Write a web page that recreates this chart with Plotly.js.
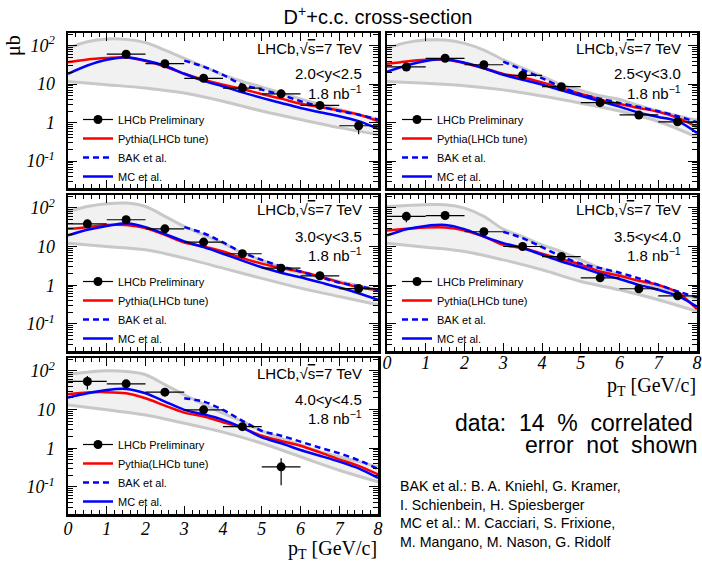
<!DOCTYPE html>
<html><head><meta charset="utf-8">
<script src="https://cdn.plot.ly/plotly-3.0.1.min.js"></script>
<style>html,body{margin:0;padding:0;background:#fff;}#chart{width:702px;height:561px;}</style>
</head><body><div id="chart"></div>
<script>
// ---------- data ----------
const ptGrid = [0,0.5,1,1.5,2,2.5,3,3.5,4,4.5,5,5.5,6,6.5,7,7.5,8];
const ptLow  = [0,1,2,3,4,5,6,7,8];
const ptBak  = [3,3.5,4,4.5,5,5.5,6,6.5,7,7.5,8];
const rapidityBins = ["2.0&lt;y&lt;2.5","2.5&lt;y&lt;3.0","3.0&lt;y&lt;3.5","3.5&lt;y&lt;4.0","4.0&lt;y&lt;4.5"];
const binHalfWidth = 0.5;

// LHCb data points
const dataPt1 = [1.5,2.5,3.5,4.5,5.5,6.5,7.5];
const dataY1  = [60,34,14.2,7.9,5.6,2.8,0.83];
const dataE1  = [5,3,1.2,0.7,0.6,0.35,0.33];
const dataPt2 = [0.5,1.5,2.5,3.5,4.5,5.5,6.5,7.5];
const dataY2  = [28,47,32,17,8.6,3.3,1.58,1.05];
const dataE2  = [6,4,3,1.5,0.8,0.3,0.15,0.12];
const dataPt3 = [0.5,1.5,2.5,3.5,4.5,5.5,6.5,7.5];
const dataY3  = [38.5,49,28.6,13,6.5,2.76,1.75,0.82];
const dataE3  = [6,5,3,1.2,0.6,0.3,0.2,0.1];
const dataPt4 = [0.5,1.5,2.5,3.5,4.5,5.5,6.5,7.5];
const dataY4  = [60,63,24,10,5.5,1.55,0.81,0.53];
const dataE4  = [18,10,3,1,0.5,0.2,0.1,0.1];
const dataPt5 = [0.5,1.5,2.5,3.5,4.5,5.5];
const dataY5  = [53,46,28,9.8,3.6,0.33];
const dataE5  = [20,8,3,1.2,0.6,0.22];

// Pythia (LHCb tune) on ptGrid
const pythia1 = [37,44,48,50,40,28.8,18.6,13.0,9.7,7.5,5.5,4.2,3.1,2.56,2.06,1.62,1.09];
const pythia2 = [33.7,39,43,43,35,26,18.5,15,11.1,7.9,5.6,4.0,3.05,2.4,1.9,1.33,0.78];
const pythia3 = [28.6,31.6,36,36,30,20,12.7,10,7.4,5.0,3.6,2.76,2.26,1.68,1.18,0.89,0.76];
const pythia4 = [26,28.6,31,31,26,18,11,9.1,6.5,4.7,3.4,2.26,1.75,1.3,1.02,0.65,0.24];
const pythia5 = [24.8,27.5,28,26.3,19.5,12.6,8.3,6.6,4.7,3.3,2.1,1.54,1.16,0.78,0.515,0.35,0.21];

// MC et al. (central) on ptGrid
const mc1 = [18.6,30.5,43,50,41,30,18.6,12.2,8.8,6.1,4.4,3.24,2.4,1.86,1.47,1.09,0.69];
const mc2 = [21,30.5,40,45,36,26,17.5,13,9.7,6.9,5.0,3.6,2.6,1.8,1.4,1.09,0.54];
const mc3 = [19.3,27,34,40,31.6,21,13.5,9.6,6.5,4.3,2.9,2.1,1.6,1.18,0.87,0.62,0.42];
const mc4 = [19.3,28,34,36,28,18,12.2,9.1,6.1,4.1,2.9,1.97,1.44,1.02,0.76,0.53,0.28];
const mc5 = [20.4,26.3,32,34,26.3,16,9.8,7.5,5.4,3.4,1.9,1.34,0.9,0.64,0.45,0.3,0.17];

// BAK et al. on ptBak
const bak1 = [41,28.6,17.4,9.7,7.2,5.3,3.6,2.65,2.0,1.6,1.2];
const bak2 = [38.6,23.5,14.4,8.4,5.5,4.2,3.24,2.55,1.97,1.47,1.02];
const bak3 = [31.6,22,12.7,7.0,4.5,3.05,2.26,1.6,1.18,0.93,0.76];
const bak4 = [24,16.4,9.6,5.5,3.6,2.76,2.1,1.5,1.02,0.69,0.49];
const bak5 = [19.5,16,9.8,5.1,2.8,2.1,1.48,1.03,0.74,0.49,0.29];

// MC uncertainty band: upper on ptGrid, lower on ptLow
const bandUp1 = [86,127,149,146,120,77,47,28.6,17.4,11.8,8.4,5.9,4.1,2.95,2.2,1.6,1.2];
const bandUp2 = [85,120,140,140,115,77,43,26,16,9.7,6.9,5.0,4.0,2.8,2.0,1.5,1.16];
const bandUp3 = [80,108,127,132,108,60,33,20,12.2,6.8,4.4,2.9,2.1,1.6,1.25,0.97,0.76];
const bandUp4 = [108,115,120,120,98,60,28,18,11,7.4,4.5,2.76,1.86,1.25,0.89,0.62,0.46];
const bandUp5 = [82,92,100,96,79,44,24,13.7,8.0,4.9,2.8,1.8,1.21,0.81,0.6,0.45,0.33];
const bandLo1 = [11.8,9.7,7.9,5.9,3.6,2.0,1.2,0.74,0.49];
const bandLo2 = [11.8,10.5,9.1,7.1,4.9,3.2,2.0,1.07,0.42];
const bandLo3 = [12.2,10,8.2,5.0,2.76,1.5,0.84,0.51,0.31];
const bandLo4 = [12.2,9.6,7.4,4.5,2.5,1.25,0.76,0.42,0.21];
const bandLo5 = [13,9.8,7.2,4.4,2.6,1.34,0.6,0.27,0.136];

const xTickVals = [0,1,2,3,4,5,6,7,8];
const yTickVals = [0.1,1,10,100];
const yTickText = ["10<sup>-1</sup>","1","10","10<sup>2</sup>"];

// ---------- layout helpers ----------
const W = 702, H = 561;
const cols = [[68,378],[387,697]];
const rows = [[33,188],[195,351],[358,514]];
const panels = [
  {c:0,r:0,pt:dataPt1,y:dataY1,e:dataE1,py:pythia1,mc:mc1,bak:bak1,up:bandUp1,lo:bandLo1,xl:false,yl:true,so:-3},
  {c:1,r:0,pt:dataPt2,y:dataY2,e:dataE2,py:pythia2,mc:mc2,bak:bak2,up:bandUp2,lo:bandLo2,xl:false,yl:false,so:-3},
  {c:0,r:1,pt:dataPt3,y:dataY3,e:dataE3,py:pythia3,mc:mc3,bak:bak3,up:bandUp3,lo:bandLo3,xl:false,yl:true,so:-3},
  {c:1,r:1,pt:dataPt4,y:dataY4,e:dataE4,py:pythia4,mc:mc4,bak:bak4,up:bandUp4,lo:bandLo4,xl:true,yl:false,so:-6},
  {c:0,r:2,pt:dataPt5,y:dataY5,e:dataE5,py:pythia5,mc:mc5,bak:bak5,up:bandUp5,lo:bandLo5,xl:true,yl:true,so:-3}
];

const minorY = [];
for (let d=-2; d<=2; d++) for (let k=2;k<=9;k++) minorY.push(k*Math.pow(10,d));
const minorX = [];
for (let i=0;i<=40;i++) if (i%5!==0) minorX.push(i*0.2);

const sans = '"Liberation Sans", Arial, Helvetica, sans-serif';
const serif = '"Liberation Serif", "Times New Roman", serif';
const tickFont = {family:serif, size:18, style:'italic', color:'#000'};

const traces = [];
const layout = {
  width:W, height:H, margin:{l:0,r:0,t:0,b:0},
  paper_bgcolor:'#fff', plot_bgcolor:'#fff', showlegend:true,
  title:{text:'D<sup>+</sup>+c.c. cross-section', x:378/W, xanchor:'center', y:1-17/H, yanchor:'middle',
         font:{family:sans, size:20, color:'#000'}},
  annotations:[], shapes:[]
};

panels.forEach((p,i)=>{
  const n = i+1;
  const sfx = (n===1?'':String(n));
  const xa = 'x'+sfx, ya = 'y'+sfx;
  const lg = 'legend'+sfx;
  const [x0,x1] = cols[p.c], [y0,y1] = rows[p.r];
  layout['xaxis'+sfx] = {
    domain:[x0/W,x1/W], anchor:ya, range:[0,8], tickvals:xTickVals, ticktext:xTickVals.map(String),
    showticklabels:p.xl, tickfont:tickFont, ticks:'inside', ticklen:8, tickwidth:1, tickcolor:'#000',
    minor:{tickvals:minorX, ticks:'inside', ticklen:4, tickwidth:1, tickcolor:'#000'},
    showline:true, linewidth:2.5, linecolor:'#000', mirror:'allticks', showgrid:false, zeroline:false,
    fixedrange:true, ticklabelstandoff:p.so
  };
  layout['yaxis'+sfx] = {
    domain:[1-y1/H,1-y0/H], anchor:xa, type:'log', range:[-1.7,2.33],
    tickvals:yTickVals, ticktext:yTickText, showticklabels:p.yl, tickfont:tickFont,
    ticks:'inside', ticklen:9, tickwidth:1, tickcolor:'#000',
    minor:{tickvals:minorY, ticks:'inside', ticklen:5, tickwidth:1, tickcolor:'#000'},
    showline:true, linewidth:2.5, linecolor:'#000', mirror:'allticks', showgrid:false, zeroline:false,
    fixedrange:true, ticklabelstandoff:7
  };
  layout[lg] = {x:(x0+10)/W, y:1-(y0+72)/H, xanchor:'left', yanchor:'top', bgcolor:'rgba(0,0,0,0)',
    font:{family:sans, size:11, color:'#000'}, tracegroupgap:0, itemwidth:30, traceorder:'normal'};

  // band
  traces.push({x:ptLow, y:p.lo, xaxis:xa, yaxis:ya, mode:'lines', line:{color:'#c8c8c8', width:3, shape:'spline'},
    showlegend:false, legend:lg, hoverinfo:'skip'});
  traces.push({x:ptGrid, y:p.up, xaxis:xa, yaxis:ya, mode:'lines', line:{color:'#c8c8c8', width:3, shape:'spline'},
    fill:'tonexty', fillcolor:'#f1f1f1', showlegend:false, legend:lg, hoverinfo:'skip'});
  // theory lines
  traces.push({x:ptGrid, y:p.py, xaxis:xa, yaxis:ya, mode:'lines', name:'Pythia(LHCb tune)', legend:lg, legendrank:2,
    line:{color:'#ff0000', width:2.5, shape:'spline', smoothing:0.8}});
  traces.push({x:ptBak, y:p.bak, xaxis:xa, yaxis:ya, mode:'lines', name:'BAK et al.', legend:lg, legendrank:3,
    line:{color:'#0000ff', width:2.5, dash:'6px,4px', shape:'spline', smoothing:0.8}});
  traces.push({x:ptGrid, y:p.mc, xaxis:xa, yaxis:ya, mode:'lines', name:'MC et al.', legend:lg, legendrank:4,
    line:{color:'#0000ff', width:2.5, shape:'spline', smoothing:0.8}});
  // data
  traces.push({x:p.pt, y:p.y, xaxis:xa, yaxis:ya, mode:'markers', showlegend:false, legend:lg,
    marker:{color:'#000', size:9},
    error_x:{type:'constant', value:binHalfWidth, color:'#000', thickness:1.2, width:0},
    error_y:{type:'data', array:p.e, color:'#000', thickness:1.2, width:0}});
  // legend entry for data
  traces.push({x:[null], y:[null], xaxis:xa, yaxis:ya, mode:'lines+markers', name:'LHCb Preliminary', legend:lg, legendrank:1,
    line:{color:'#000', width:1.2}, marker:{color:'#000', size:9}});

  // text
  const tx = (x1-15)/W;
  layout.annotations.push({xref:'paper', yref:'paper', x:tx, y:1-(y0+15)/H, xanchor:'right', yanchor:'middle', borderpad:0,
    text:'LHCb,√<span style="text-decoration:overline">s</span>=7 TeV', showarrow:false, font:{family:sans, size:15, color:'#000'}});
  layout.annotations.push({xref:'paper', yref:'paper', x:tx, y:1-(y0+41)/H, xanchor:'right', yanchor:'middle', borderpad:0,
    text:rapidityBins[i], showarrow:false, font:{family:sans, size:15, color:'#000'}});
  layout.annotations.push({xref:'paper', yref:'paper', x:tx, y:1-(y0+59)/H, xanchor:'right', yanchor:'middle', borderpad:0,
    text:'1.8 nb<sup>−1</sup>', showarrow:false, font:{family:sans, size:15, color:'#000'}});
  if (p.xl) {
    layout.annotations.push({xref:'paper', yref:'paper', x:x1/W, y:1-(y1+35)/H, xanchor:'right', yanchor:'middle', borderpad:0,
      text:'p<sub>T</sub> [GeV/c]', showarrow:false, font:{family:serif, size:20, color:'#000'}});
  }
});

layout.annotations.push({xref:'paper', yref:'paper', x:13/W, y:1-46/H, xanchor:'center', yanchor:'middle', textangle:-90,
  text:'μb', showarrow:false, font:{family:serif, size:20, color:'#000'}});
layout.annotations.push({xref:'paper', yref:'paper', x:454/W, y:1-423/H, xanchor:'left', yanchor:'middle', borderpad:0,
  text:'data:\u00a0 14\u00a0 %\u00a0 correlated', showarrow:false, font:{family:sans, size:23, color:'#000'}});
layout.annotations.push({xref:'paper', yref:'paper', x:524/W, y:1-445/H, xanchor:'left', yanchor:'middle', borderpad:0,
  text:'error\u00a0 not\u00a0 shown', showarrow:false, font:{family:sans, size:23, color:'#000'}});
const refs = ['BAK et al.: B. A. Kniehl, G. Kramer,','I. Schienbein, H. Spiesberger','MC et al.: M. Cacciari, S. Frixione,','M. Mangano, M. Nason, G. Ridolf'];
refs.forEach((t,k)=>layout.annotations.push({xref:'paper', yref:'paper', x:398/W, y:1-(486+18.5*k)/H, xanchor:'left', yanchor:'middle',
  text:t, showarrow:false, font:{family:sans, size:14.2, color:'#000'}}));

Plotly.newPlot('chart', traces, layout, {staticPlot:true, displayModeBar:false});
</script></body></html>
